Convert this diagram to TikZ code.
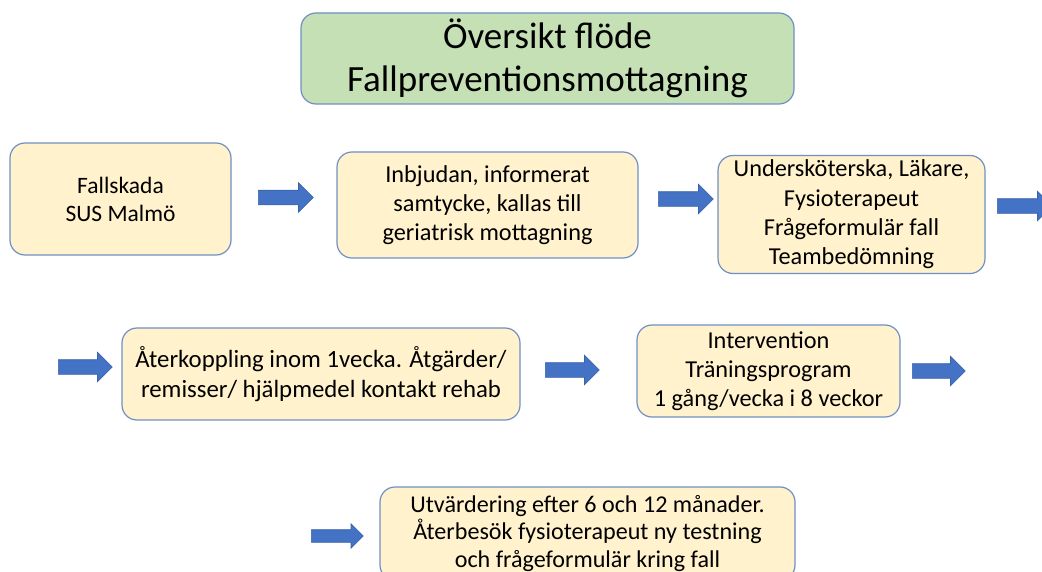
\documentclass[tikz,border=0pt]{standalone}
\usepackage{fontspec}
\setmainfont{Carlito}
\usetikzlibrary{shapes.arrows}
\definecolor{boxfill}{HTML}{FFF2CC}
\definecolor{titlefill}{HTML}{C5E0B4}
\definecolor{boxline}{HTML}{6F8FC6}
\definecolor{arrowfill}{HTML}{4472C4}
\definecolor{arrowline}{HTML}{3A62AA}
\tikzset{
  stepbox/.style={draw=boxline, line width=1.2pt, fill=boxfill, rounded corners=15pt,
    align=center, inner sep=0pt, font=\fontsize{24.3}{29.3}\selectfont},
  titlebox/.style={draw=boxline, line width=1.2pt, fill=titlefill, rounded corners=15pt,
    align=center, inner sep=0pt, font=\fontsize{37}{43}\selectfont},
  barrow/.style={shape=single arrow, fill=arrowfill, draw=arrowline, line width=0.6pt,
    inner sep=0pt, single arrow head extend=7.5pt, anchor=west,
    single arrow tip angle=90, minimum height=55pt},
}
\begin{document}
\begin{tikzpicture}[x=1pt,y=-1pt]
\useasboundingbox (0,0) rectangle (1042,572);
\clip (0,0) rectangle (1042,572);
\fill[white] (0,0) rectangle (1042,572);

\node[titlebox, minimum width=493pt, minimum height=91pt] (title) at (547.5,58.5)
  {Översikt flöde\\Fallpreventionsmottagning};

\node[stepbox, minimum width=221pt, minimum height=112pt, font=\fontsize{23.5}{28}\selectfont] (b1) at (120.5,199)
  {Fallskada\\SUS Malmö};
\node[stepbox, minimum width=301pt, minimum height=106pt] (b2) at (487.5,205)
  {Inbjudan, informerat\\samtycke, kallas till\\geriatrisk mottagning};
\node[stepbox, minimum width=267pt, minimum height=118pt] (b3) at (851.5,214.5)
  {Undersköterska, Läkare,\\Fysioterapeut\\Frågeformulär fall\\Teambedömning};
\node[stepbox, minimum width=398pt, minimum height=92pt, font=\fontsize{24.8}{30}\selectfont] (b4) at (321,374)
  {Återkoppling inom 1vecka. Åtgärder/\\remisser/ hjälpmedel kontakt rehab};
\node[stepbox, minimum width=263pt, minimum height=92pt] (b5) at (768.5,371)
  {Intervention\\Träningsprogram\\1 gång/vecka i 8 veckor};
\node[stepbox, minimum width=415pt, minimum height=93pt, font=\fontsize{24.1}{27.8}\selectfont] (b7) at (587.5,533.5)
  {Utvärdering efter 6 och 12 månader.\\Återbesök fysioterapeut ny testning\\och frågeformulär kring fall};

\node[barrow] (a1) at (258,197.5) {\rule{0pt}{14pt}};
\node[barrow] (a2) at (658,199) {\rule{0pt}{14pt}};
\node[barrow] (a3) at (997,206) {\rule{0pt}{14pt}};
\node[barrow, minimum height=54pt] (a4) at (58,367) {\rule{0pt}{14pt}};
\node[barrow, minimum height=54pt] (a5) at (545,370) {\rule{0pt}{14pt}};
\node[barrow, minimum height=53pt] (a6) at (912,371) {\rule{0pt}{14pt}};
\node[barrow, minimum height=52pt, single arrow head extend=6pt] (a7) at (311,536) {\rule{0pt}{12pt}};
\end{tikzpicture}
\end{document}
